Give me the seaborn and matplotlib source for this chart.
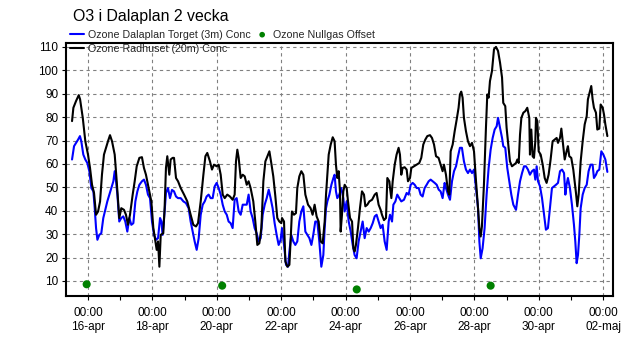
import matplotlib
matplotlib.use("Agg")
import matplotlib.pyplot as plt
import matplotlib.dates as mdates
import matplotlib.ticker as mticker
import pandas as pd
import seaborn as sns

# ---------------- data (hours relative to 16-apr 00:00) ----------------
start = pd.Timestamp("2023-04-16 00:00")

radhuset_hours = [
    -11.9, -10.9, -8.9, -6.9, -5.9, -3.9, -2.0, 0.0, 1.5, 3.0, 4.5, 6.0, 7.5, 9.0, 10.4, 11.9, 13.4, 14.9,
    16.4, 17.9, 19.9, 21.4, 22.4, 23.3, 24.8, 26.8, 28.3, 29.8, 31.3, 33.3, 34.8, 36.3, 38.3, 40.2, 41.7,
    43.2, 45.2, 47.2, 48.7, 50.2, 51.2, 52.2, 53.2, 54.2, 56.1, 57.1, 58.1, 59.1, 60.6, 61.6, 63.1,
    64.1, 65.6, 67.1, 69.1, 71.6, 74.0, 76.5, 78.5, 80.5, 82.0, 84.0, 86.0, 87.5, 88.9, 90.9, 92.4, 93.9,
    95.9, 97.4, 98.9, 100.4, 101.9, 103.8, 105.8, 107.8, 109.3, 110.3, 111.3, 112.3, 113.8, 115.3, 116.8,
    118.3, 119.7, 121.2, 123.2, 124.7, 126.2, 127.7, 129.2, 130.7, 132.2, 133.7, 135.2, 136.6, 138.1, 139.6,
    141.1, 142.6, 144.1,
    144.6, 146.1, 147.1, 148.6, 150.1, 151.1, 152.0, 153.5, 155.0, 156.0, 157.5, 159.0, 160.5, 162.0, 164.0,
    165.9, 167.4, 168.9, 170.4, 171.9, 173.4, 174.9, 176.4, 177.4, 178.4, 179.4, 180.9, 182.4, 183.8, 184.8,
    185.8, 186.8, 187.8, 188.3, 189.3, 190.3, 191.3, 192.8, 193.8, 195.3, 196.8, 197.8, 198.7, 199.7, 201.2,
    202.7, 204.2, 205.7, 206.7, 208.2, 209.7, 211.7, 213.7, 215.1, 216.6, 218.1, 219.1, 220.6, 222.1, 223.1,
    224.6,
    225.1, 226.1, 227.1, 228.6, 230.0, 231.5, 232.5, 233.5, 234.5, 236.0, 237.5, 238.5, 240.0, 241.0, 243.0,
    245.0, 246.9, 248.4, 249.9, 251.4, 252.9, 254.9, 256.4, 257.9, 259.4, 261.3, 262.8, 264.3, 265.3, 266.8,
    268.3, 269.3, 270.3, 271.8, 273.3, 274.8, 276.2, 277.2, 278.2, 279.2, 280.2, 281.7, 283.2, 284.7, 286.2,
    287.7, 289.2, 290.7, 291.7, 292.7, 293.6, 295.1, 296.6, 297.6, 298.6, 299.6, 301.1, 302.6, 304.1,
    305.6, 307.1, 308.6, 309.5, 311.0, 312.0, 313.0, 314.5, 316.0, 317.5, 319.0, 320.0, 321.0, 322.0, 323.0,
    324.5, 326.0, 327.4, 328.9, 329.4, 330.4, 331.4, 332.4, 333.4, 333.9, 334.9, 335.9, 337.4, 338.9, 340.4,
    341.8, 343.3, 344.8, 346.3, 347.8, 349.3, 350.3, 351.8, 352.8, 353.8, 355.3, 356.7, 357.7, 358.7, 360.2,
    361.7, 362.7, 363.7, 364.7, 365.7, 367.2, 368.7, 370.2, 371.7, 372.6, 374.1, 375.1, 376.1, 377.1, 378.6,
    379.6, 381.1, 382.1, 383.6, 384.6, 385.6, 387.1,
]
radhuset_conc = [
    78.3, 84, 86.9, 89.4, 87.6, 79.7, 69.7, 64, 58.3, 51.1, 47.6, 38.3, 39.7, 44, 55.4, 64, 66.9, 69.7,
    72.3, 69.7, 64, 52.6, 44, 36.9, 41.1, 40.4, 38.3, 34, 38.3, 46.9, 52.6, 59, 62.6, 62.9, 58.3,
    55.4, 49.7, 44, 32.6, 26.9, 23.3, 26.9, 16.1, 29.7, 30.4, 41.1, 58.3, 63.3, 55.4, 61.9, 62.6,
    62.6, 54, 52.6, 49.7, 46.9, 44, 38.3, 34, 33.3, 34.7, 44, 55.4, 63.3, 64.7, 61.1, 57.6, 59.7,
    59, 59.7, 55.4, 46.9, 45.4, 46.9, 46.1, 44.7, 46.9, 61.1, 66.1, 62.6, 54, 55.4, 54.7,
    51.1, 52.6, 49.7, 44, 35.4, 25.4, 26.1, 32.6, 52.6, 61.1, 63.3, 65.4, 60.4, 54.7, 46.4,
    36.9, 35.4, 34.7,
    36.9, 35.4, 18.3, 16.1, 16.9, 28.3, 39.7, 38.3, 39, 49.7, 54.7, 56.9, 55.4, 46.9, 42.6,
    41.1, 38.3, 42.6, 37.6, 35.4, 26.9, 26.1, 35.4, 46.9, 55.4, 64, 68.3, 71.4, 69.7, 59.7,
    54, 56.9, 48.3, 31.1, 38.3, 48.3, 51.1, 49.7, 44, 36.9, 35.4, 24, 22.6, 25.4, 32.6,
    41.1, 48.3, 46.9, 41.9, 42.6, 44, 44.7, 46.9, 47.6, 42.6, 40.4, 38.3, 36, 36.9, 54,
    52.6,
    49.7, 45.4, 52.6, 59.7, 64, 66.9, 64, 55.4, 58.3, 58.6, 57.6, 52.6, 54, 58.3, 59,
    59.7, 60.4, 62.6, 68.3, 70.4, 71.9, 72.3, 71.1, 68.3, 63.3, 62.6, 59.7, 56.9, 59.7, 55.4,
    48.3, 46.9, 65.4, 68.3, 74, 79, 84, 89.7, 90.9, 88.3, 79.7, 74, 69.7, 67.6, 69,
    65.4, 52.6, 41.1, 32.6, 29, 33.3, 51.1, 75.4, 89.7, 88.3, 95.4, 99.7, 109, 110,
    108.3, 103.3, 96.9, 86.1, 84.7, 75.4, 69.7, 61.1, 59, 59.7, 60.4, 61.9, 60.4, 72.6, 79.7,
    81.9, 82.6, 84, 79.7, 64, 74.7, 63.3, 62.6, 69.7, 79.7, 78.3, 65.4, 64, 59.7, 54,
    51.9, 55.4, 61.9, 69.7, 70.4, 71.1, 69, 71.1, 75.1, 69.7, 61.9, 65.4, 67.6, 63.3, 62.6,
    57.6, 52.6, 47.6, 41.9, 46.9, 61.1, 69.7, 76.9, 80.4, 87.6, 91.1, 93.3, 87.6, 84, 81.9,
    74.7, 75.1, 85.4, 84, 81.1, 76.9, 71.9,
]

dalaplan_hours = [
    -11.9, -10.4, -8.9, -7.4, -6.0, -5.0, -3.5, -2.0, -0.5, 1.0, 2.5, 4.0, 5.0, 6.0, 7.0, 8.4, 9.9, 11.4,
    12.9, 14.4, 15.9, 17.4, 18.9, 19.9, 20.9, 21.9, 23.3, 24.8, 26.3, 27.8, 29.3, 30.8, 32.3, 33.8, 35.3,
    36.8, 38.3, 40.2, 41.7, 43.2, 44.7, 46.2, 47.7, 49.2, 50.7, 52.2, 53.7, 54.7, 55.6, 57.1, 58.1, 59.6,
    61.1, 62.6,
    64.1, 65.6, 67.1, 69.1, 71.1, 73.0, 75.0, 76.5, 78.0, 79.5, 81.0, 82.5, 84.0, 85.5, 87.0, 88.4, 89.9,
    91.4, 92.9, 94.4, 95.9, 97.4, 98.9, 100.4, 101.9, 103.4, 104.8, 106.3, 107.8, 109.3, 110.8, 112.3, 113.8,
    115.3, 116.8, 118.3, 119.7, 121.2, 122.7, 124.2, 125.7, 127.2, 128.7, 130.2, 131.7, 133.2, 134.7, 136.1,
    137.6, 139.1, 140.6, 142.1, 143.6,
    144.6, 146.1, 147.6, 149.1, 150.1, 151.5, 153.0, 154.5, 156.0, 157.5, 159.0, 160.5, 162.0, 163.5, 165.0,
    166.5, 167.9, 169.4, 170.9, 172.4, 173.9, 175.4, 176.4, 177.4, 178.4, 179.9, 181.4, 182.9, 183.8, 184.8,
    185.8, 187.3, 188.8, 190.3, 191.3, 192.8, 194.3, 195.8, 197.3, 198.7, 200.2, 201.7, 203.2, 204.7, 206.2,
    207.7, 209.2, 210.7, 212.2, 213.7, 215.1, 216.6, 218.1, 219.6, 221.1, 222.6, 224.1,
    225.1, 226.6, 227.6, 229.1, 230.5, 232.0, 233.5, 235.5, 237.5, 239.0, 240.5, 242.0, 243.5, 245.0, 246.5,
    247.9, 249.4, 250.9, 252.4, 253.9, 255.4, 256.9, 258.4, 259.9, 261.4, 262.8, 264.3, 265.8, 266.8, 268.3,
    269.8, 271.3, 272.8, 274.3, 275.8, 277.2, 278.7, 280.2, 281.7, 283.2, 284.7, 286.2, 287.7, 289.2, 290.7,
    291.7, 292.7, 294.1, 295.6, 297.1, 298.6, 300.1, 301.6, 303.1, 304.6,
    305.6, 307.1, 308.6, 309.5, 311.0, 312.5, 314.0, 315.5, 317.0, 319.0, 320.5, 322.0, 323.5, 325.0, 326.4,
    327.9, 329.4, 330.9, 332.4, 333.4, 334.4, 335.4, 336.9, 338.4, 339.9, 341.3, 342.8, 344.3, 345.8, 347.3,
    348.8, 350.3, 351.8, 353.3, 354.8, 355.8, 356.7, 357.7, 359.2, 360.7, 362.2, 363.2, 364.2, 365.2, 366.2,
    367.2, 368.7, 370.2, 371.7, 373.1, 374.6, 376.1, 377.1, 378.6, 379.6, 381.1, 382.6, 384.1, 385.6, 387.1,
]
dalaplan_conc = [
    61.9, 67.6, 69, 70.4, 71.9, 69.7, 64, 61.9, 60.4, 56.9, 49.7, 48.3, 41.1, 32.6, 27.6, 29.7, 30.4, 36.9,
    40.4, 44, 46.9, 49.7, 52.6, 56.9, 52.6, 46.9, 35.4, 36.9, 37.6, 35.4, 31.1, 36.9, 34, 34.7, 44,
    48.3, 51.1, 52.6, 53.3, 51.1, 46.9, 45.4, 35.4, 29.7, 27.6, 28.3, 36.9, 35.4, 29.7, 39.7, 47.6, 49.7,
    45.4, 48.9,
    48.3, 46.1, 45.4, 45.4, 44, 43.3, 41.1, 35.4, 31.1, 26.9, 23.3, 28.3, 38.3, 42.6, 44, 46.1, 46.9,
    45.4, 45.4, 50.4, 51.9, 49.7, 46.9, 42.6, 39.7, 38.3, 35.4, 34.7, 32.6, 44.7, 45.4, 39.7, 38.3,
    42.6, 42.6, 42.6, 46.9, 39.7, 36.9, 32.6, 30.4, 26.9, 28.3, 38.3, 42.6, 45.4, 49, 45.4,
    41.1, 34.7, 29.7, 25.4, 27.6,
    32.6, 25.4, 16.9, 16.1, 22.6, 29.7, 26.9, 25.4, 26.9, 35.4, 39.7, 41.9, 31.1, 29.7, 28.3,
    25.4, 29.7, 35.4, 35.4, 26.9, 16.1, 21.1, 32.6, 41.1, 44, 46.9, 51.1, 54, 55.4, 48.3,
    45.4, 46.9, 49.7, 45.4, 39.7, 44, 35.4, 31.1, 25.4, 21.1, 19.7, 26.9, 31.1, 35.4, 28.3,
    32.6, 31.1, 32.6, 34.7, 37.6, 38.3, 35.4, 32.6, 34, 26.9, 23.3, 35.4,
    38.3, 35.4, 42.6, 44, 46.9, 45.4, 44, 44.7, 47.6, 46.9, 51.1, 51.9, 51.1, 49.7, 49.7,
    46.9, 46.1, 49.7, 51.1, 52.6, 53.3, 52.6, 51.9, 51.1, 49, 48.3, 45.4, 51.9, 49.7, 46.9,
    44.7, 52.6, 56.9, 59, 63.3, 66.9, 66.9, 61.1, 57.6, 56.1, 57.6, 56.1, 57.6, 49.7, 41.1,
    26.9, 19.7, 24, 32.6, 46.9, 58.3, 66.1, 71.1, 74.7, 76.1,
    79.7, 75.4, 71.1, 67.6, 66.9, 58.3, 52.6, 46.9, 42.6, 40.4, 46.9, 52.6, 56.1, 59, 59,
    57.6, 55.4, 56.9, 57.6, 53.3, 59, 52.6, 50.4, 45.4, 38.3, 31.9, 32.6, 41.1, 49.7, 50.4,
    51.1, 51.9, 56.9, 57.6, 56.1, 46.9, 51.1, 54, 49.7, 42.6, 34, 26.9, 17.6, 21.1, 29.7,
    41.1, 46.9, 49.7, 51.1, 56.9, 59.7, 59.7, 54, 55.4, 56.9, 57.6, 65.4, 64, 61.9, 56.6,
]

nullgas_hours = [-1.0, 100.0, 200.3, 300.1]
nullgas_offset = [8.6, 8.0, 6.4, 8.0]

y_ticks = [10, 20, 30, 40, 50, 60, 70, 80, 90, 100, 110]
tick_days = [0, 2, 4, 6, 8, 10, 12, 14, 16]
months_sv = {4: "apr", 5: "maj"}

title = "O3 i Dalaplan 2 vecka"
label_dalaplan = "Ozone Dalaplan Torget (3m) Conc"
label_radhuset = "Ozone Radhuset (20m) Conc"
label_nullgas = "Ozone Nullgas Offset"

# ---------------- frames ----------------
df_r = pd.DataFrame({"time": start + pd.to_timedelta(radhuset_hours, unit="h"), "conc": radhuset_conc})
df_d = pd.DataFrame({"time": start + pd.to_timedelta(dalaplan_hours, unit="h"), "conc": dalaplan_conc})
df_n = pd.DataFrame({"time": start + pd.to_timedelta(nullgas_hours, unit="h"), "conc": nullgas_offset})

# ---------------- style ----------------
sns.set_theme(style="white")
plt.rcParams["font.family"] = ["Liberation Sans", "DejaVu Sans"]

W, H = 633, 338
fig = plt.figure(figsize=(W / 100, H / 100), dpi=100)
fig.patch.set_facecolor("white")
ax = fig.add_axes([66 / W, 1 - 295.5 / H, (613 - 66) / W, (295.5 - 42.7) / H])
ax.set_facecolor("white")

sns.lineplot(data=df_d, x="time", y="conc", ax=ax, color="#0000ff", linewidth=1.5,
             estimator=None, sort=False, label=label_dalaplan)
sns.lineplot(data=df_r, x="time", y="conc", ax=ax, color="#000000", linewidth=1.5,
             estimator=None, sort=False, label=label_radhuset)
sns.scatterplot(data=df_n, x="time", y="conc", ax=ax, color="#008000", s=34,
                marker="o", edgecolor="none", label=label_nullgas, zorder=5)

ax.set_xlim(start + pd.Timedelta(hours=-16.4), start + pd.Timedelta(hours=391.3))
ax.set_ylim(3.8, 111.8)
ax.set_yticks(y_ticks)
ax.set_ylabel("")
ax.set_xlabel("")

major = [mdates.date2num(start + pd.Timedelta(days=d)) for d in tick_days]
minor = [mdates.date2num(start + pd.Timedelta(days=d)) for d in range(-1, 18)]
ax.xaxis.set_major_locator(mticker.FixedLocator(major))
ax.xaxis.set_minor_locator(mticker.FixedLocator(minor))


def fmt(x, pos=None):
    d = mdates.num2date(x)
    return f"{d:%H:%M}\n{d.day:02d}-{months_sv[d.month]}"


ax.xaxis.set_major_formatter(mticker.FuncFormatter(fmt))

ax.grid(True, which="major", color="#808080", linestyle=(0, (3, 3)), linewidth=0.8)
ax.tick_params(axis="both", which="major", direction="out", length=3, width=0.8,
               colors="black", labelsize=8.5, pad=2.5, bottom=True, left=True)
ax.tick_params(axis="x", which="minor", direction="out", length=3, width=0.8,
               colors="black", bottom=True)
ax.tick_params(axis="x", which="major", pad=5, labelsize=8.5)
for lab in ax.get_xticklabels():
    lab.set_linespacing(1.3)
for sp in ax.spines.values():
    sp.set_visible(True)
    sp.set_color("black")
    sp.set_linewidth(1.5)

handles, labels = ax.get_legend_handles_labels()
ax.get_legend().remove()
order = [labels.index(label_dalaplan), labels.index(label_radhuset), labels.index(label_nullgas)]
fig.legend([handles[i] for i in order], [labels[i] for i in order],
           loc="upper left", bbox_to_anchor=(70 / W, 1 - 29.5 / H), ncol=2, frameon=False,
           fontsize=7.7, handlelength=1.3, handletextpad=0.4, columnspacing=0.4,
           borderaxespad=0, borderpad=0, labelspacing=0.4, markerscale=0.7)

fig.text(73 / W, 1 - 16 / H, title, fontsize=11.4, ha="left", va="center", color="black")

fig.savefig("out.png", dpi=100, facecolor="white")
